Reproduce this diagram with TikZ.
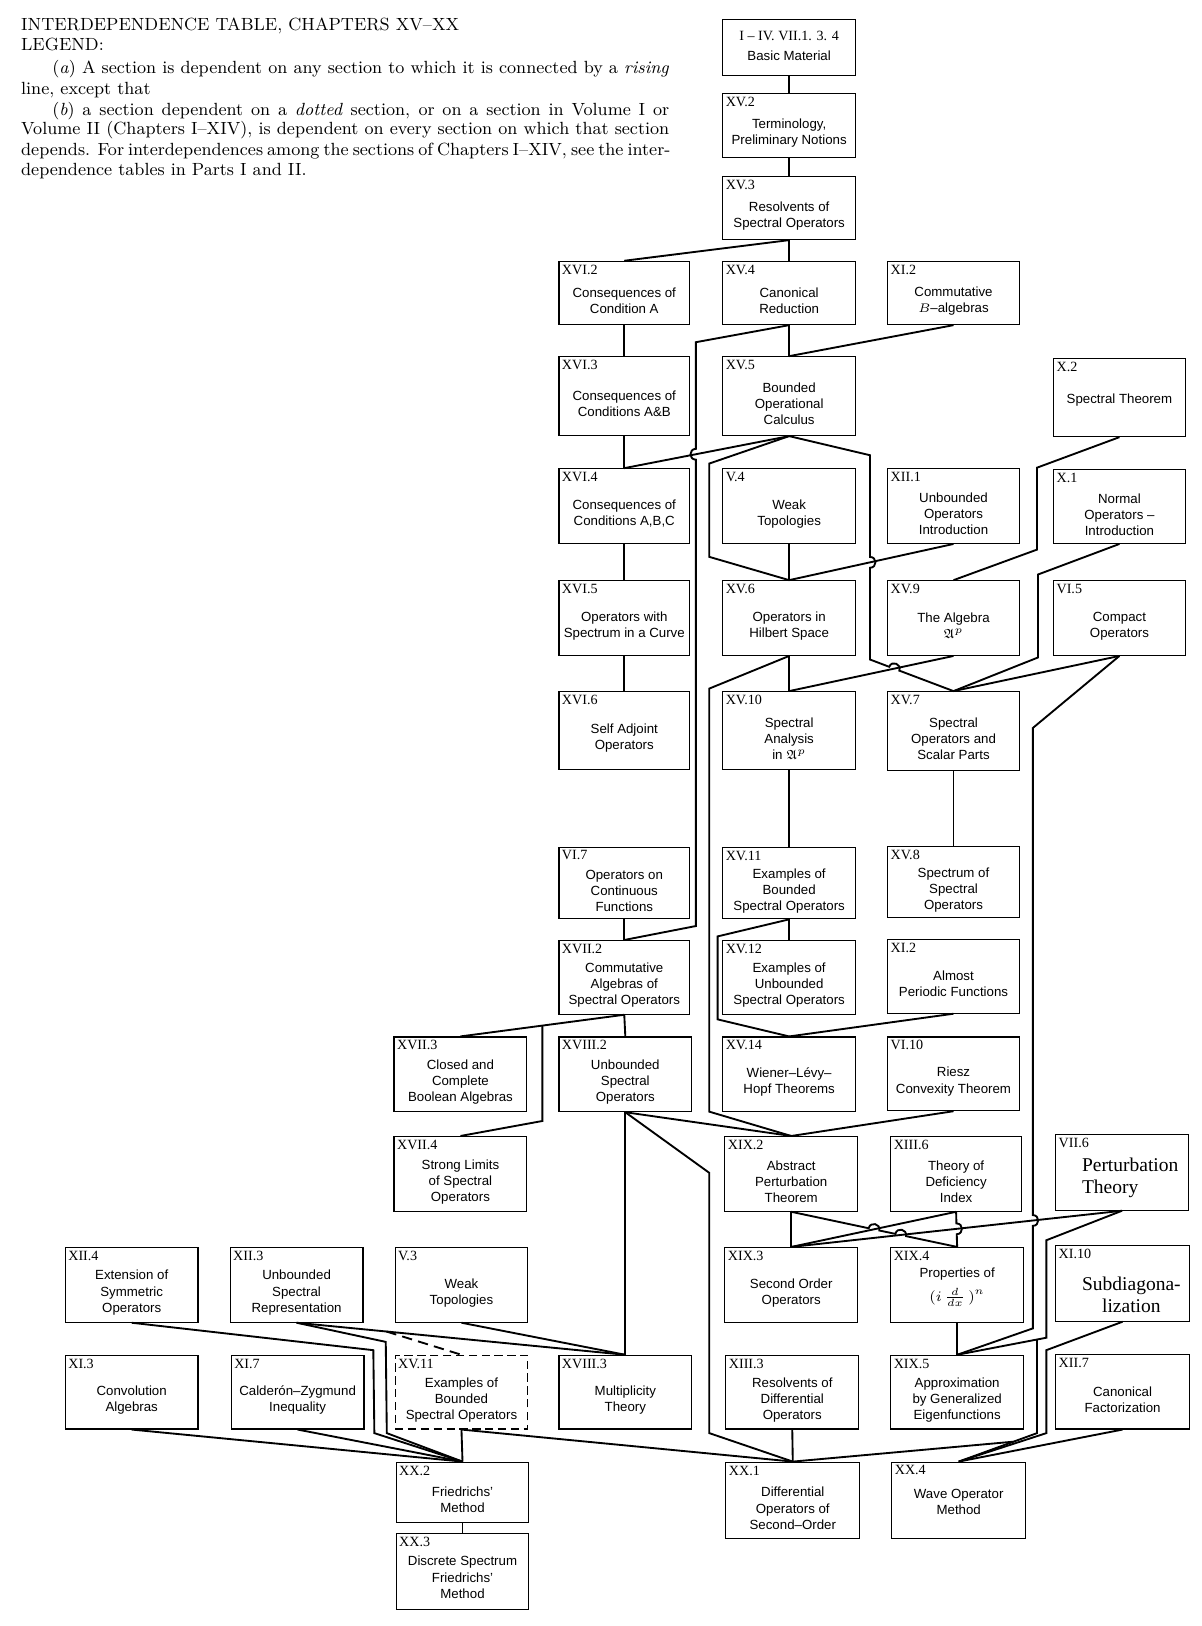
\documentclass[tikz,border=0pt]{standalone}
\usepackage{amssymb}
\usepackage{fontspec}
\newfontfamily\bxf{Liberation Sans}
\newfontfamily\lbf{Liberation Serif}
\usetikzlibrary{calc,fit}

\tikzset{
  secbox/.style={draw, line width=0.55pt, inner sep=0pt},
  dbox/.style={draw, line width=0.55pt, inner sep=0pt, dash pattern=on 4pt off 2.2pt},
  body/.style={font=\bxf\fontsize{6.4}{7.75}\selectfont, align=center, inner sep=0pt},
  lab/.style={font=\lbf\fontsize{6.8}{8}\selectfont, inner sep=0pt, anchor=north west},
  conn/.style={line width=0.9pt},
  legend/.style={font=\fontsize{8.5}{9.75}\selectfont, inner sep=0pt, anchor=base west},
  big/.style={font=\lbf\fontsize{9.4}{10.5}\selectfont, inner sep=0pt},
}

\newcommand\secnode[8][7.5]{%
  \node[secbox, fit={(#3,#4) (#5,#6)}] (#2) {};
  \node[lab] at ($(#3,#4)+(2.5,3)$) {#7};
  \node[body] at ($(#2.center)+(0,#1)$) {#8};
}

% bump: id, P, Q (line with bump), line2 a, line2 b, side angle, opposite angle
\newcommand\mkbump[7]{%
  \coordinate (#1c) at (intersection cs: first line={(#2)--(#3)}, second line={(#4)--(#5)});
  \coordinate (#1s) at ($(#1c)!2.6pt!(#2)$);
  \coordinate (#1e) at ($(#1c)!2.6pt!(#3)$);
  \coordinate (#1a) at ($(#1s)!3.45pt!#6:(#1c)$);
  \coordinate (#1b) at ($(#1e)!3.45pt!#7:(#1c)$);
}

\begin{document}
\begin{tikzpicture}[x=0.5pt,y=-0.5pt]
\useasboundingbox (0,0) rectangle (1159,1568);

% ---------- legend ----------
\node[legend] (t1) at (20,29) {INTERDEPENDENCE TABLE, CHAPTERS XV–XX};
\node[legend] (t2) at (20,49) {LEGEND:};
\node[legend] (t3) at (50,71) {\makebox[297.5pt][s]{(\textit{a}) A section is dependent on any section to which it is connected by a \textit{rising}}};
\node[legend] (t4) at (20,91) {line, except that};
\node[legend] (t5) at (50,111) {\makebox[297.5pt][s]{(\textit{b}) a section dependent on a \textit{dotted} section, or on a section in Volume I or}};
\node[legend] (t6) at (20,130) {\makebox[312.5pt][s]{Volume II (Chapters I–XIV), is dependent on every section on which that section}};
\node[legend] (t7) at (20,150) {\makebox[312.5pt][s]{depends. For interdependences among the sections of Chapters I–XIV, see the inter-}};
\node[legend] (t8) at (20,169) {dependence tables in Parts I and II.};

% ---------- boxes ----------
\node[secbox, fit={(697,19) (825,73)}] (basic) {};
\node[lab, anchor=center] (basict) at (761,35) {I – IV. VII.1. 3. 4};
\node[body] (basicb) at (761,54) {Basic Material};

\secnode{xv2}{697}{90}{825}{152}{XV.2}{Terminology,\\Preliminary Notions}
\secnode{xv3}{697}{170}{825}{231}{XV.3}{Resolvents of\\Spectral Operators}
\secnode{xvi2}{539}{252}{665}{313}{XVI.2}{Consequences of\\Condition A}
\secnode{xv4}{697}{252}{825}{313}{XV.4}{Canonical\\Reduction}
\secnode{xi2c}{856}{252}{983}{313}{XI.2}{Commutative\\$B$–algebras}
\secnode{xvi3}{539}{344}{665}{420}{XVI.3}{Consequences of\\Conditions A\&B}
\secnode{xv5}{697}{344}{825}{420}{XV.5}{Bounded\\Operational\\Calculus}
\secnode[2]{x2}{1016}{346}{1143}{421}{X.2}{Spectral Theorem}
\secnode{xvi4}{539}{452}{665}{524}{XVI.4}{Consequences of\\Conditions A,B,C}
\secnode{v4}{697}{452}{825}{524}{V.4}{Weak\\Topologies}
\secnode{xii1}{856}{452}{983}{524}{XII.1}{Unbounded\\Operators\\Introduction}
\secnode{x1}{1016}{453}{1143}{524}{X.1}{Normal\\Operators –\\Introduction}
\secnode{xvi5}{539}{560}{665}{632}{XVI.5}{Operators with\\Spectrum in a Curve}
\secnode{xv6}{697}{560}{825}{632}{XV.6}{Operators in\\Hilbert Space}
\secnode{xv9}{856}{560}{983}{632}{XV.9}{The Algebra\\$\mathfrak{A}^{p}$}
\secnode{vi5}{1016}{560}{1143}{632}{VI.5}{Compact\\Operators}
\secnode{xvi6}{539}{667}{665}{742}{XVI.6}{Self Adjoint\\Operators}
\secnode{xv10}{697}{667}{825}{742}{XV.10}{Spectral\\Analysis\\in $\mathfrak{A}^{p}$}
\secnode{xv7}{856}{667}{983}{743}{XV.7}{Spectral\\Operators and\\Scalar Parts}
\secnode{vi7}{539}{817}{665}{886}{VI.7}{Operators on\\Continuous\\Functions}
\secnode{xv11}{697}{817}{825}{886}{XV.11}{Examples of\\Bounded\\Spectral Operators}
\secnode{xv8}{856}{816}{983}{885}{XV.8}{Spectrum of\\Spectral\\Operators}
\secnode{xvii2}{539}{907}{665}{978}{XVII.2}{Commutative\\Algebras of\\Spectral Operators}
\secnode{xv12}{697}{907}{825}{978}{XV.12}{Examples of\\Unbounded\\Spectral Operators}
\secnode{xi2a}{856}{906}{983}{977}{XI.2}{Almost\\Periodic Functions}
\secnode{xvii3}{380}{1000}{508}{1072}{XVII.3}{Closed and\\Complete\\Boolean Algebras}
\secnode{xviii2}{539}{1000}{667}{1072}{XVIII.2}{Unbounded\\Spectral\\Operators}
\secnode{xv14}{697}{1000}{825}{1072}{XV.14}{Wiener–Lévy–\\Hopf Theorems}
\secnode{vi10}{856}{1000}{983}{1071}{VI.10}{Riesz\\Convexity Theorem}
\secnode{xvii4}{380}{1096}{508}{1168}{XVII.4}{Strong Limits\\of Spectral\\Operators}
\secnode{xix2}{699}{1096}{827}{1168}{XIX.2}{Abstract\\Perturbation\\Theorem}
\secnode{xiii6}{859}{1096}{985}{1168}{XIII.6}{Theory of\\Deficiency\\Index}

\node[secbox, fit={(1018,1094) (1146,1167)}] (vii6) {};
\node[lab] (vii6l) at (1020.5,1097) {VII.6};
\node[big, anchor=west, align=left] (vii6b) at (1043,1135.5) {Perturbation\\Theory};

\secnode{xii4}{63}{1203}{191}{1275}{XII.4}{Extension of\\Symmetric\\Operators}
\secnode{xii3}{222}{1203}{350}{1275}{XII.3}{Unbounded\\Spectral\\Representation}
\secnode{v3}{381}{1203}{509}{1275}{V.3}{Weak\\Topologies}
\secnode{xix3}{699}{1203}{827}{1275}{XIX.3}{Second Order\\Operators}
\node[secbox, fit={(859,1203) (987,1275)}] (xix4) {};
\node[lab] (xix4l) at (861.5,1206) {XIX.4};
\node[body] (xix4b) at (923,1229) {Properties of};
\node[body, font=\fontsize{7.4}{8}\selectfont] (xix4f) at (923,1251) {$(i\,\frac{d}{dx}\,)^{n}$};

\node[secbox, fit={(1018,1201) (1147,1274)}] (xi10) {};
\node[lab] (xi10l) at (1020.5,1204) {XI.10};
\node[big, align=center] (xi10b) at (1091,1248.5) {Subdiagona-\\lization};

\secnode{xi3}{63}{1307}{191}{1378}{XI.3}{Convolution\\Algebras}
\secnode{xi7}{223}{1307}{351}{1378}{XI.7}{Calderón–Zygmund\\Inequality}

\node[dbox, fit={(381,1307) (509,1378)}] (xv11d) {};
\node[lab] (xv11dl) at (383.5,1310) {XV.11};
\node[body] (xv11db) at ($(xv11d.center)+(0,7.5)$) {Examples of\\Bounded\\Spectral Operators};

\secnode{xviii3}{539}{1307}{667}{1378}{XVIII.3}{Multiplicity\\Theory}
\secnode{xiii3}{700}{1307}{828}{1378}{XIII.3}{Resolvents of\\Differential\\Operators}
\secnode{xix5}{859}{1307}{987}{1378}{XIX.5}{Approximation\\by Generalized\\Eigenfunctions}
\secnode{xii7}{1018}{1306}{1147}{1378}{XII.7}{Canonical\\Factorization}
\secnode{xx2}{382}{1410}{510}{1468}{XX.2}{Friedrichs’\\Method}
\secnode{xx1}{700}{1410}{829}{1484}{XX.1}{Differential\\Operators of\\Second–Order}
\secnode[1]{xx4}{860}{1410}{989}{1484}{XX.4}{Wave Operator\\Method}
\secnode[5.5]{xx3}{382}{1479}{510}{1552}{XX.3}{Discrete Spectrum\\Friedrichs’\\Method}

% ---------- corner points ----------
\coordinate (k4a) at (671,330);   \coordinate (k4b) at (671,893);
\coordinate (k5a) at (684,447);   \coordinate (k5b) at (684,537);
\coordinate (k5c) at (839,439);   \coordinate (k5d) at (839,636);
\coordinate (kx2a) at (1000,451); \coordinate (kx2b) at (1000,530);
\coordinate (kx1a) at (1001,554); \coordinate (kx1b) at (1001,634);
\coordinate (kvi5a) at (996,702); \coordinate (kvi5b) at (996,1281);
\coordinate (k6a) at (684,664);   \coordinate (k6b) at (684,1072);
\coordinate (k11a) at (692,903);  \coordinate (k11b) at (692,983);
\coordinate (k17a) at ($(xvii2.south)!0.5!(xvii3.north)$);
\coordinate (k17b) at (523,1081);
\coordinate (k18a) at (684,1131); \coordinate (k18b) at (684,1382);
\coordinate (k76a) at (1009,1196); \coordinate (k76b) at (1009,1290);
\coordinate (kv1) at (1000,1200); \coordinate (kv2) at (1000,1400);
\coordinate (k76c) at (intersection cs: first line={(k76b)--(xix5.north)}, second line={(kv1)--(kv2)});
\coordinate (k76d) at (1000,1382);
\coordinate (kxx1) at ($(k76d)!0.3!(xx4.north)$);
\coordinate (k10a) at (1009,1302); \coordinate (k10b) at (1009,1382);
\coordinate (k124a) at (360,1302); \coordinate (k124b) at (361,1382);
\coordinate (k123a) at (372,1294); \coordinate (k123b) at (373,1382);
\coordinate (kdash) at ($(xii3.south)!0.273!(xviii3.north)$);

% ---------- bumps ----------
\mkbump{ba}{k4a}{k4b}{xv5.south}{xvi4.north}{-90}{90}
\mkbump{bb}{k5c}{k5d}{xii1.south}{xv6.north}{90}{-90}
\mkbump{bc}{k5d}{xv7.north}{xv9.south}{xv10.north}{90}{-90}
\mkbump{bd}{kvi5a}{kvi5b}{vii6.south}{xix3.north}{90}{-90}
\mkbump{be}{xix2.south}{xix4.north}{xiii6.south}{xix3.north}{90}{-90}
\mkbump{bf}{xix2.south}{xix4.north}{vii6.south}{xix3.north}{90}{-90}
\mkbump{bg}{xiii6.south}{xix4.north}{vii6.south}{xix3.north}{90}{-90}

% ---------- connectors ----------
\draw[conn] (basic.south) -- (xv2.north);
\draw[conn] (xv2.south) -- (xv3.north);
\draw[conn] (xv3.south) -- (xvi2.north);
\draw[conn] (xv3.south) -- (xv4.north);
\draw[conn] (xvi2.south) -- (xvi3.north);
\draw[conn] (xv4.south) -- (xv5.north);
\draw[conn] (xi2c.south) -- (xv5.north);
\draw[conn] (xv4.south) -- (k4a) -- (bas) .. controls (baa) and (bab) .. (bae) -- (k4b) -- (xvii2.north);
\draw[conn] (xv5.south) -- (xvi4.north);
\draw[conn] (xvi3.south) -- (xvi4.north);
\draw[conn] (xv5.south) -- (k5a) -- (k5b) -- (xv6.north);
\draw[conn] (xv5.south) -- (k5c) -- (bbs) .. controls (bba) and (bbb) .. (bbe) -- (k5d) -- (bcs) .. controls (bca) and (bcb) .. (bce) -- (xv7.north);
\draw[conn] (v4.south) -- (xv6.north);
\draw[conn] (xii1.south) -- (xv6.north);
\draw[conn] (x2.south) -- (kx2a) -- (kx2b) -- (xv9.north);
\draw[conn] (x1.south) -- (kx1a) -- (kx1b) -- (xv7.north);
\draw[conn] (vi5.south) -- (xv7.north);
\draw[conn] (vi5.south) -- (kvi5a) -- (bds) .. controls (bda) and (bdb) .. (bde) -- (kvi5b) -- (xix5.north);
\draw[conn] (xvi4.south) -- (xvi5.north);
\draw[conn] (xvi5.south) -- (xvi6.north);
\draw[conn] (xv6.south) -- (xv10.north);
\draw[conn] (xv9.south) -- (xv10.north);
\draw[conn] (xv6.south) -- (k6a) -- (k6b) -- (xix2.north);
\draw[conn] (xv10.south) -- (xv11.north);
\draw[conn] (xv7.south) -- (xv8.north);
\draw[conn] (vi7.south) -- (xvii2.north);
\draw[conn] (xv11.south) -- (xv12.north);
\draw[conn] (xv11.south) -- (k11a) -- (k11b) -- (xv14.north);
\draw[conn] (xi2a.south) -- (xv14.north);
\draw[conn] (xvii2.south) -- (xviii2.north);
\draw[conn] (xvii2.south) -- (xvii3.north);
\draw[conn] (k17a) -- (k17b) -- (xvii4.north);
\draw[conn] (xviii2.south) -- (xviii3.north);
\draw[conn] (xviii2.south) -- (k18a) -- (k18b) -- (xx1.north);
\draw[conn] (xviii2.south) -- (xix2.north);
\draw[conn] (vi10.south) -- (xix2.north);
\draw[conn] (xix2.south) -- (xix3.north);
\draw[conn] (xix2.south) -- (bes) .. controls (bea) and (beb) .. (bee) -- (bfs) .. controls (bfa) and (bfb) .. (bfe) -- (xix4.north);
\draw[conn] (xiii6.south) -- (bgs) .. controls (bga) and (bgb) .. (bge) -- (xix4.north);
\draw[conn] (xiii6.south) -- (xix3.north);
\draw[conn] (vii6.south) -- (xix3.north);
\draw[conn] (vii6.south) -- (k76a) -- (k76b) -- (xix5.north);
\draw[conn] (k76c) -- (k76d) -- (xx4.north);
\draw[conn] (kxx1) -- (xx1.north);
\draw[conn] (xi10.south) -- (k10a) -- (k10b) -- (xx4.north);
\draw[conn] (xii7.south) -- (xx4.north);
\draw[conn] (xix4.south) -- (xix5.north);
\draw[conn] (xiii3.south) -- (xx1.north);
\draw[conn] (xv11d.south) -- (xx1.north);
\draw[conn] (xv11d.south) -- (xx2.north);
\draw[conn] (xi3.south) -- (xx2.north);
\draw[conn] (xi7.south) -- (xx2.north);
\draw[conn] (xii4.south) -- (k124a) -- (k124b) -- (xx2.north);
\draw[conn] (xii3.south) -- (k123a) -- (k123b) -- (xx2.north);
\draw[conn] (xii3.south) -- (xviii3.north);
\draw[conn, dash pattern=on 5pt off 3pt] (kdash) -- (xv11d.north);
\draw[conn] (v3.south) -- (xviii3.north);
\draw[conn] (xx2.south) -- (xx3.north);
\end{tikzpicture}
\end{document}
